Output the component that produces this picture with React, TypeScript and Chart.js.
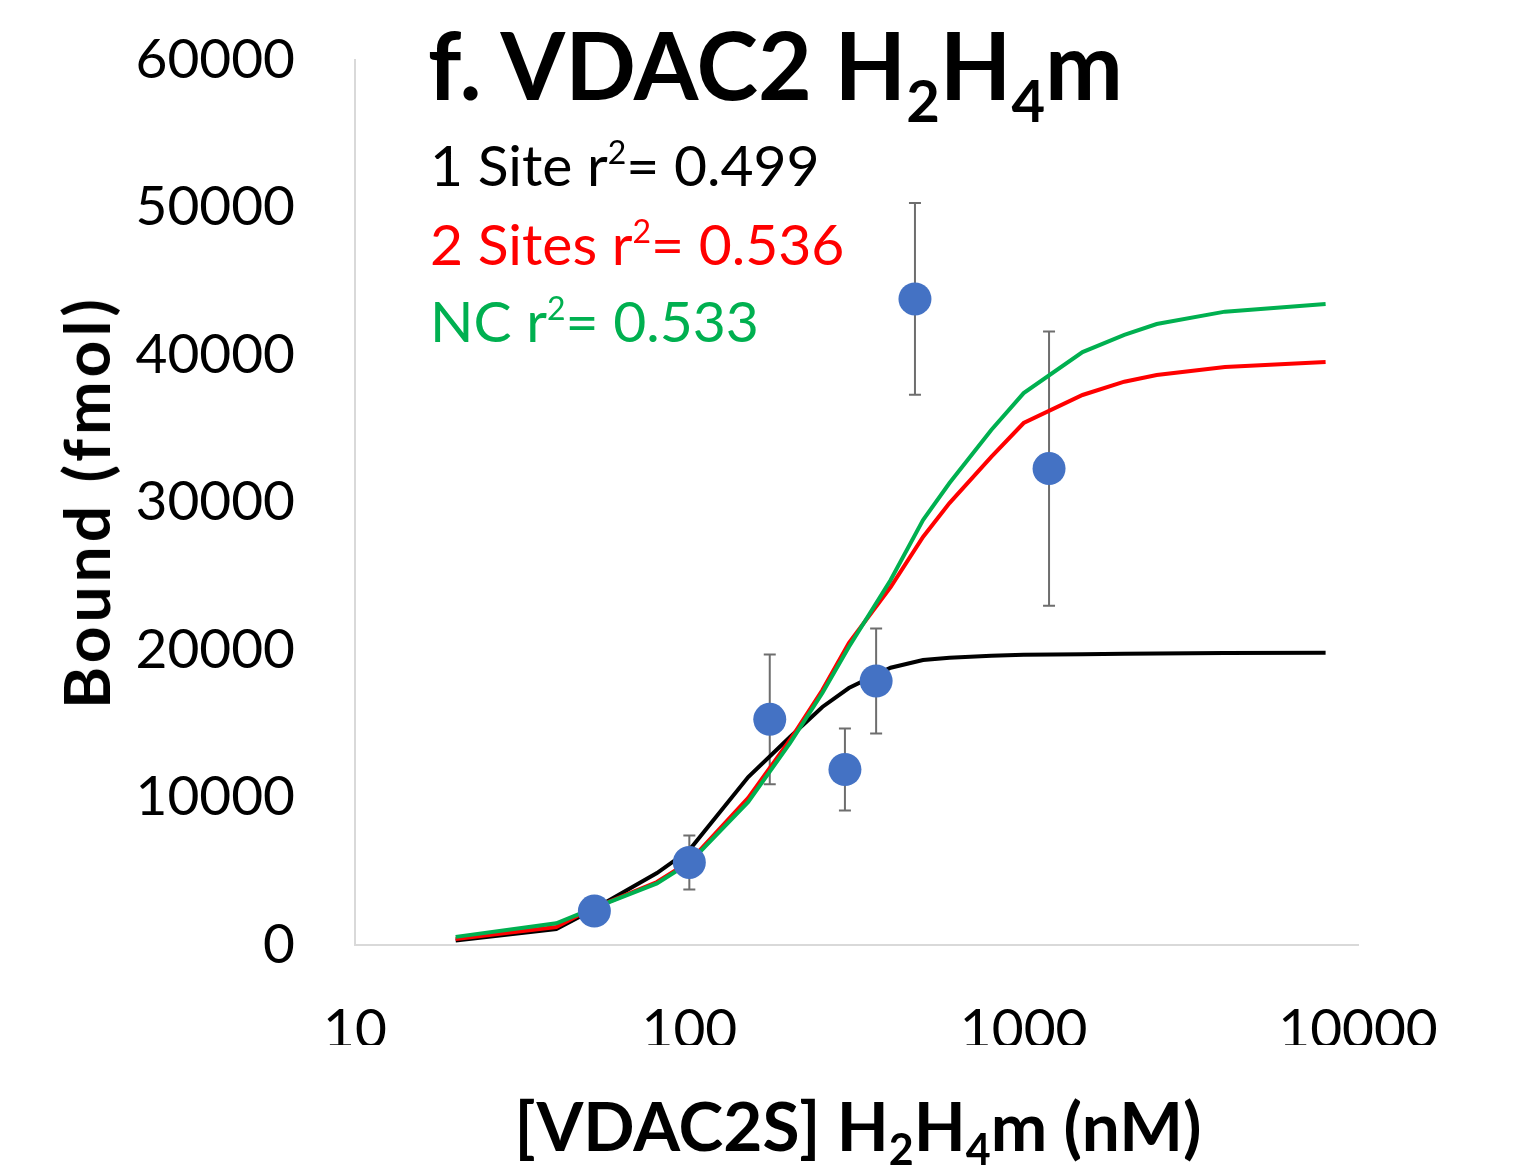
import React, { useEffect, useRef } from "react";
import { Chart, registerables } from "chart.js";

Chart.register(...registerables);

// Measured data (concentration nM, bound fmol, error)
const concentrations = [52, 100, 174, 292, 362, 473, 1191];
const boundMeans = [2300, 5600, 15300, 11900, 17900, 43800, 32300];
const boundErrors = [700, 1830, 4400, 2780, 3560, 6500, 9300];

// Fitted curves
const fitX = [20, 40, 50, 80, 100, 150, 200, 250, 300, 400, 500, 600, 800, 1000, 1500, 2000, 2500, 4000, 8000];
const oneSite = [300, 1085, 2240, 4880, 6440, 11390, 14100, 16140, 17420, 18800, 19320, 19480, 19610, 19680, 19720, 19740, 19760, 19800, 19820];
const twoSites = [400, 1220, 2370, 4270, 5650, 9970, 13900, 17290, 20470, 24270, 27660, 29960, 33090, 35390, 37290, 38190, 38640, 39190, 39530];
const ncFit = [550, 1470, 2370, 4180, 5560, 9700, 13690, 17080, 20200, 24750, 28810, 31320, 34920, 37420, 40200, 41360, 42100, 42940, 43460];

const xTicks = [10, 100, 1000, 10000];
const yTicks = [0, 10000, 20000, 30000, 40000, 50000, 60000];

const FONT = "Lato, 'Open Sans', sans-serif";

const errorBarPlugin = {
  id: "errorBars",
  beforeDatasetsDraw(chart: any) {
    const meta = chart.getDatasetMeta(0);
    const yScale = chart.scales.y;
    const ctx = chart.ctx;
    ctx.save();
    ctx.strokeStyle = "#6e6e6e";
    ctx.lineWidth = 2;
    meta.data.forEach((pt: any, i: number) => {
      const x = pt.x;
      const top = yScale.getPixelForValue(boundMeans[i] + boundErrors[i]);
      const bot = yScale.getPixelForValue(boundMeans[i] - boundErrors[i]);
      ctx.beginPath();
      ctx.moveTo(x, top);
      ctx.lineTo(x, bot);
      ctx.moveTo(x - 6, top);
      ctx.lineTo(x + 6, top);
      ctx.moveTo(x - 6, bot);
      ctx.lineTo(x + 6, bot);
      ctx.stroke();
    });
    ctx.restore();
  },
};

export default function App() {
  const ref = useRef<HTMLCanvasElement>(null);

  useEffect(() => {
    document.body.style.margin = "0";
    const toPts = (ys: number[]) => fitX.map((x, i) => ({ x, y: ys[i] }));
    const chart = new Chart(ref.current as HTMLCanvasElement, {
      type: "scatter",
      data: {
        datasets: [
          {
            label: "Data",
            data: concentrations.map((x, i) => ({ x, y: boundMeans[i] })),
            backgroundColor: "#4472C4",
            borderColor: "#4472C4",
            pointRadius: 16.5,
            pointBorderWidth: 0,
            showLine: false,
            order: 0,
          },
          {
            label: "NC",
            data: toPts(ncFit),
            borderColor: "#00B050",
            borderWidth: 4,
            pointRadius: 0,
            showLine: true,
            order: 1,
          },
          {
            label: "2 Sites",
            data: toPts(twoSites),
            borderColor: "#FF0000",
            borderWidth: 4,
            pointRadius: 0,
            showLine: true,
            order: 2,
          },
          {
            label: "1 Site",
            data: toPts(oneSite),
            borderColor: "#000000",
            borderWidth: 4,
            pointRadius: 0,
            showLine: true,
            order: 3,
          },
        ],
      },
      options: {
        animation: false,
        responsive: false,
        devicePixelRatio: 1,
        layout: { padding: { left: 0, top: 60, right: 161, bottom: 123 } },
        plugins: {
          legend: { display: false },
          tooltip: { enabled: false },
          title: { display: false },
        },
        scales: {
          x: {
            type: "logarithmic",
            min: 10,
            max: 10000,
            afterBuildTicks: (s: any) => {
              s.ticks = xTicks.map((v) => ({ value: v }));
            },
            afterFit: (s: any) => {
              s.height = 100;
              s.paddingLeft = 0;
              s.paddingRight = 0;
            },
            ticks: {
              color: "#000",
              font: { family: FONT, size: 55 },
              padding: 52,
              maxRotation: 0,
              autoSkip: false,
              callback: (v: any) => String(v),
            },
            grid: { display: false, drawTicks: false },
            border: { display: true, color: "#d9d9d9", width: 2 },
          },
          y: {
            type: "linear",
            min: 0,
            max: 60000,
            afterBuildTicks: (s: any) => {
              s.ticks = yTicks.map((v) => ({ value: v }));
            },
            afterFit: (s: any) => {
              s.width = 355;
              s.paddingTop = 0;
              s.paddingBottom = 0;
            },
            ticks: {
              color: "#000",
              font: { family: FONT, size: 55 },
              padding: 60,
              callback: (v: any) => String(v),
            },
            grid: { display: false, drawTicks: false },
            border: { display: true, color: "#d9d9d9", width: 2 },
          },
        },
      },
      plugins: [errorBarPlugin],
    } as any);
    return () => chart.destroy();
  }, []);

  const sup = (c: string) => (
    <span style={{ fontSize: 32, verticalAlign: 22, lineHeight: 0 }}>{c}</span>
  );

  return (
    <div style={{ position: "relative", width: 1519, height: 1168, background: "#fff", fontFamily: FONT }}>
      <canvas ref={ref} width={1519} height={1168} style={{ position: "absolute", left: 0, top: 0 }} />
      <div style={{ position: "absolute", left: 428, top: 18, fontSize: 93, fontWeight: 700, lineHeight: 1, whiteSpace: "nowrap", color: "#000" }}>
        f. VDAC2 H<span style={{ fontSize: 58, verticalAlign: -22, lineHeight: 0 }}>2</span>H<span style={{ fontSize: 58, verticalAlign: -22, lineHeight: 0 }}>4</span>m
      </div>
      <div style={{ position: "absolute", left: 430, top: 136, fontSize: 57, lineHeight: 1, whiteSpace: "nowrap", color: "#000" }}>
        1 Site r{sup("2")}= 0.499
      </div>
      <div style={{ position: "absolute", left: 430, top: 215, fontSize: 57, lineHeight: 1, whiteSpace: "nowrap", color: "#FF0000" }}>
        2 Sites r{sup("2")}= 0.536
      </div>
      <div style={{ position: "absolute", left: 430, top: 292, fontSize: 57, lineHeight: 1, whiteSpace: "nowrap", color: "#00B050" }}>
        NC r{sup("2")}= 0.533
      </div>
      <div style={{ position: "absolute", left: 86, top: 502, transform: "translate(-50%, -50%) rotate(-90deg)", fontSize: 64, fontWeight: 700, letterSpacing: 4, lineHeight: 1, whiteSpace: "nowrap", color: "#000" }}>
        Bound (fmol)
      </div>
      <div style={{ position: "absolute", left: 858, top: 1091, transform: "translateX(-50%)", fontSize: 67.5, fontWeight: 700, lineHeight: 1, whiteSpace: "nowrap", color: "#000" }}>
        [VDAC2S] H<span style={{ fontSize: 43, verticalAlign: -14, lineHeight: 0 }}>2</span>H<span style={{ fontSize: 43, verticalAlign: -14, lineHeight: 0 }}>4</span>m (nM)
      </div>
    </div>
  );
}
